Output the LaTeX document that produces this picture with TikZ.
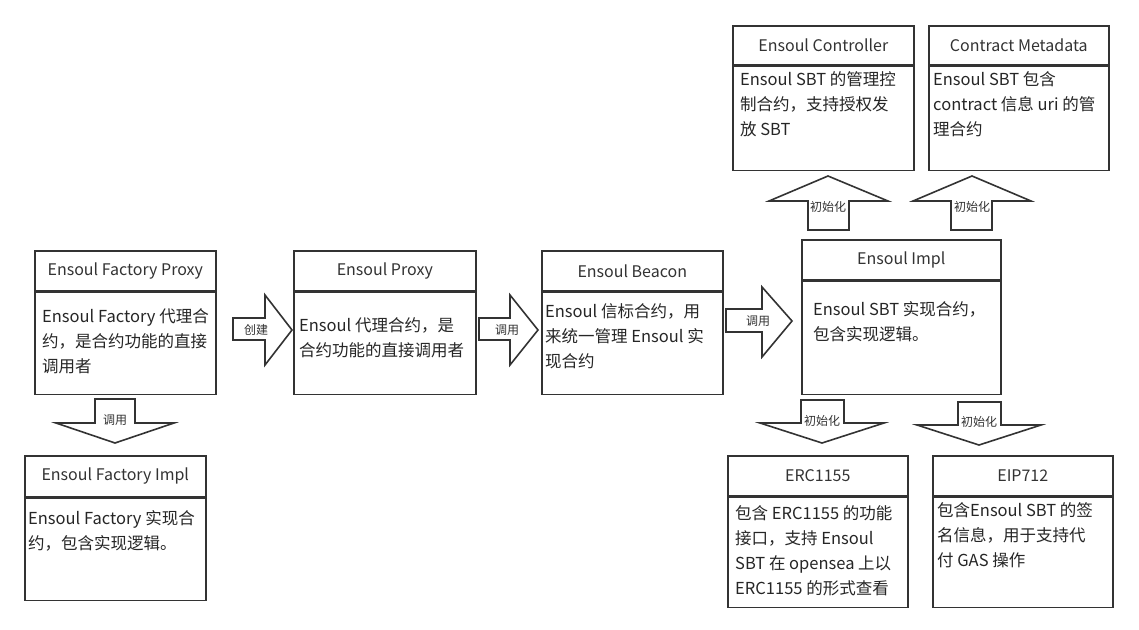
\documentclass[tikz,border=0pt]{standalone}
\usepackage{fontspec}
\setmainfont{Noto Sans CJK SC}
\usepackage{xcolor}
\usetikzlibrary{positioning}
\definecolor{edge}{HTML}{333333}
\tikzset{
  eHead/.style={draw=edge,line width=1.6pt,anchor=north west,inner sep=0pt,
        minimum height=40pt,font=\fontsize{16}{18}\selectfont,text=edge},
  eBody/.style={draw=edge,line width=1.6pt,anchor=north west,inner sep=0pt},
  eText/.style={align=left,inner sep=0pt,anchor=west,text=black!85,
        font=\fontsize{16.5}{25}\selectfont},
  eArrow/.style={draw=edge,line width=1.6pt,line join=miter,fill=white},
  eLabel/.style={inner sep=0pt,text=edge,font=\fontsize{12}{14}\selectfont},
}

\begin{document}
\begin{tikzpicture}[x=1pt,y=-1pt]
\fill[white] (0,0) rectangle (1139,629);
\useasboundingbox (0,0) rectangle (1139,629);
% boxes
\node[eHead,minimum width=181pt] (fp) at (34,250) {Ensoul Factory Proxy};
\node[eBody,minimum width=181pt,minimum height=102pt] (fpb) at (fp.south west) {};
\node[eHead,minimum width=181pt,minimum height=41pt] (fi) at (24,455) {Ensoul Factory Impl};
\node[eBody,minimum width=181pt,minimum height=102pt] (fib) at (fi.south west) {};
\node[eHead,minimum width=182pt] (px) at (293,250) {Ensoul Proxy};
\node[eBody,minimum width=182pt,minimum height=102pt] (pxb) at (px.south west) {};
\node[eHead,minimum width=181pt] (bc) at (541,250) {Ensoul Beacon};
\node[eBody,minimum width=181pt,minimum height=102pt] (bcb) at (bc.south west) {};
\node[eHead,minimum width=199pt] (im) at (801,239) {Ensoul Impl};
\node[eBody,minimum width=199pt,minimum height=113pt] (imb) at (im.south west) {};
\node[eHead,minimum width=181pt,minimum height=39pt] (ct) at (732,25) {Ensoul Controller};
\node[eBody,minimum width=181pt,minimum height=104pt] (ctb) at (ct.south west) {};
\node[eHead,minimum width=180pt,minimum height=39pt] (md) at (928,25) {Contract Metadata};
\node[eBody,minimum width=180pt,minimum height=104pt] (mdb) at (md.south west) {};
\node[eHead,minimum width=180pt] (erc) at (727,455) {ERC1155};
\node[eBody,minimum width=180pt,minimum height=110pt] (ercb) at (erc.south west) {};
\node[eHead,minimum width=180pt] (eip) at (932,455) {EIP712};
\node[eBody,minimum width=180pt,minimum height=110pt] (eipb) at (eip.south west) {};
% texts
\node[eText] (fpt) at (42,341) {Ensoul Factory 代理合\\约，是合约功能的直接\\调用者};
\node[eText] (fit) at (28,530.5) {Ensoul Factory 实现合\\约，包含实现逻辑。};
\node[eText] (pxt) at (299,337.5) {Ensoul 代理合约，是\\合约功能的直接调用者};
\node[eText] (bct) at (545,336) {Ensoul 信标合约，用\\来统一管理 Ensoul 实\\现合约};
\node[eText] (imt) at (813,321.5) {Ensoul SBT 实现合约，\\包含实现逻辑。};
\node[eText] (ctt) at (740,104) {Ensoul SBT 的管理控\\制合约，支持授权发\\放 SBT};
\node[eText] (mdt) at (933,104) {Ensoul SBT 包含\\contract 信息 uri 的管\\理合约};
\node[eText] (erct) at (735,550.5) {包含 ERC1155 的功能\\接口，支持 Ensoul\\SBT 在 opensea 上以\\ERC1155 的形式查看};
\node[eText] (eipt) at (937,535) {包含Ensoul SBT 的签\\名信息，用于支持代\\付 GAS 操作};
% block arrows
\draw[eArrow] (233,318) -- (265,318) -- (265,295) -- (292,330) -- (265,365) -- (265,340) -- (233,340) -- cycle;
\node[eLabel] (a1) at (256,330) {创建};
\draw[eArrow] (479,318) -- (510,318) -- (510,295) -- (538,330) -- (510,365) -- (510,340) -- (479,340) -- cycle;
\node[eLabel] (a2) at (507,330) {调用};
\draw[eArrow] (726,309) -- (762,309) -- (762,287) -- (792,321) -- (762,357) -- (762,332) -- (726,332) -- cycle;
\node[eLabel] (a3) at (758,321) {调用};
\draw[eArrow] (95,399) -- (135,399) -- (135,423) -- (174,423) -- (115,443) -- (56,423) -- (95,423) -- cycle;
\node[eLabel] (a4) at (115,420) {调用};
\draw[eArrow] (808,230) -- (849,230) -- (849,201) -- (888,201) -- (828,176) -- (769,201) -- (808,201) -- cycle;
\node[eLabel] (a5) at (828,207) {初始化};
\draw[eArrow] (951,230) -- (992,230) -- (992,201) -- (1031,201) -- (972,176) -- (913,201) -- (951,201) -- cycle;
\node[eLabel] (a6) at (972,207) {初始化};
\draw[eArrow] (801,400) -- (844,400) -- (844,423) -- (884,423) -- (822,443) -- (760,423) -- (801,423) -- cycle;
\node[eLabel] (a7) at (822,421) {初始化};
\draw[eArrow] (958,402) -- (1001,402) -- (1001,425) -- (1041,425) -- (979,445) -- (917,425) -- (958,425) -- cycle;
\node[eLabel] (a8) at (979,422) {初始化};
\end{tikzpicture}
\end{document}
